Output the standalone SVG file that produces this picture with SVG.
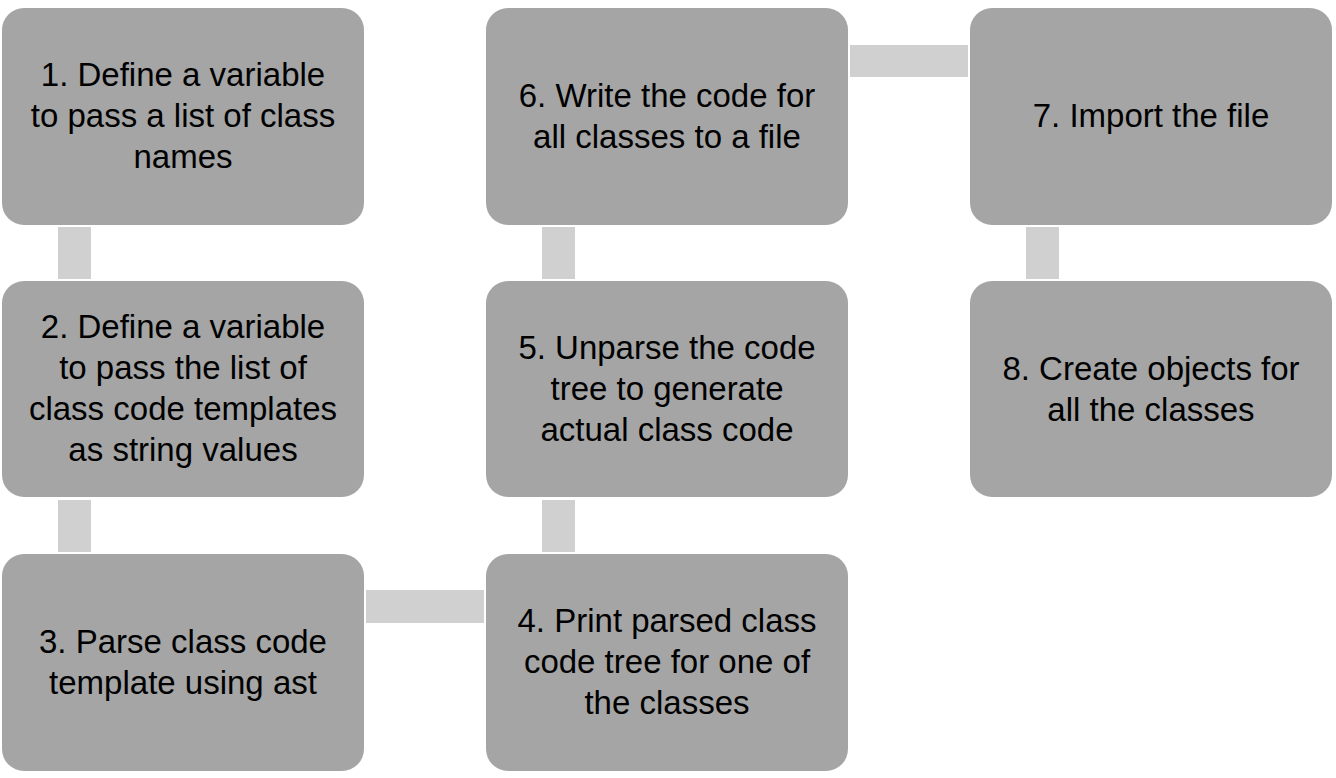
<svg xmlns="http://www.w3.org/2000/svg" width="1336" height="778" viewBox="0 0 1336 778">
<style>
.box{fill:#a5a5a5}
.con{fill:#d0d0d0}
text{font-family:"Liberation Sans",Arial,sans-serif;font-size:33px;fill:#000;text-anchor:middle}
</style>
<rect width="1336" height="778" fill="#fff"/>
<g id="connectors">
<rect class="con" x="58" y="227" width="33" height="52"/>
<rect class="con" x="58" y="500" width="33" height="52"/>
<rect class="con" x="366" y="590" width="118" height="33"/>
<rect class="con" x="542" y="500" width="33" height="52"/>
<rect class="con" x="542" y="227" width="33" height="52"/>
<rect class="con" x="850" y="45" width="118" height="32"/>
<rect class="con" x="1026" y="227" width="33" height="52"/>
</g>
<g id="n1"><rect class="box" x="2" y="8" width="362" height="217" rx="22"/>
<text x="183" y="86">1. Define a variable</text><text x="183" y="127">to pass a list of class</text><text x="183" y="168">names</text></g>
<g id="n2"><rect class="box" x="2" y="281" width="362" height="216" rx="22"/>
<text x="183" y="338">2. Define a variable</text><text x="183" y="379">to pass the list of</text><text x="183" y="420">class code templates</text><text x="183" y="461">as string values</text></g>
<g id="n3"><rect class="box" x="2" y="554" width="362" height="217" rx="22"/>
<text x="183" y="653">3. Parse class code</text><text x="183" y="694">template using ast</text></g>
<g id="n4"><rect class="box" x="486" y="554" width="362" height="217" rx="22"/>
<text x="667" y="632">4. Print parsed class</text><text x="667" y="673">code tree for one of</text><text x="667" y="714">the classes</text></g>
<g id="n5"><rect class="box" x="486" y="281" width="362" height="216" rx="22"/>
<text x="667" y="359">5. Unparse the code</text><text x="667" y="400">tree to generate</text><text x="667" y="441">actual class code</text></g>
<g id="n6"><rect class="box" x="486" y="8" width="362" height="217" rx="22"/>
<text x="667" y="107">6. Write the code for</text><text x="667" y="148">all classes to a file</text></g>
<g id="n7"><rect class="box" x="970" y="8" width="362" height="217" rx="22"/>
<text x="1151" y="127">7. Import the file</text></g>
<g id="n8"><rect class="box" x="970" y="281" width="362" height="216" rx="22"/>
<text x="1151" y="380">8. Create objects for</text><text x="1151" y="421">all the classes</text></g>
</svg>
